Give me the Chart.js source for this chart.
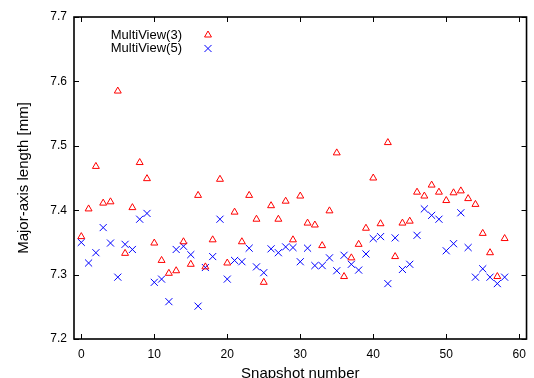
<!DOCTYPE html>
<html>
<head>
<meta charset="utf-8">
<script src="https://cdn.jsdelivr.net/npm/chart.js@4.4.0/dist/chart.umd.min.js"></script>
<style>
html, body { margin: 0; padding: 0; background: #fff; }
</style>
</head>
<body>
<canvas id="c" width="534" height="378"></canvas>
<script>
// tick labels
const xTicks = [0, 10, 20, 30, 40, 50, 60];
const yTicks = [7.2, 7.3, 7.4, 7.5, 7.6, 7.7];

// series (snapshot 0..58)
const mv3 = [
    7.359, 7.402, 7.468, 7.411, 7.413, 7.585, 7.333, 7.404, 7.474, 7.449,
    7.349, 7.322, 7.302, 7.306, 7.351, 7.316, 7.423, 7.312, 7.354, 7.448,
    7.318, 7.397, 7.351, 7.423, 7.386, 7.288, 7.407, 7.386, 7.414, 7.354,
    7.422, 7.380, 7.377, 7.345, 7.399, 7.489, 7.297, 7.326, 7.347, 7.372,
    7.450, 7.379, 7.505, 7.328, 7.380, 7.383, 7.428, 7.422, 7.439, 7.428,
    7.415, 7.427, 7.430, 7.418, 7.409, 7.364, 7.334, 7.297, 7.356
];
const mv5 = [
    7.350, 7.318, 7.334, 7.373, 7.349, 7.296, 7.347, 7.339, 7.386, 7.395,
    7.288, 7.293, 7.258, 7.339, 7.344, 7.331, 7.251, 7.311, 7.328, 7.386,
    7.293, 7.322, 7.320, 7.341, 7.312, 7.303, 7.340, 7.334, 7.343, 7.342,
    7.320, 7.341, 7.314, 7.314, 7.326, 7.306, 7.330, 7.316, 7.307, 7.332,
    7.356, 7.359, 7.286, 7.357, 7.308, 7.316, 7.361, 7.402, 7.392, 7.386,
    7.337, 7.348, 7.396, 7.342, 7.296, 7.309, 7.296, 7.286, 7.296
];

const RED = 'rgb(255, 0, 0)';
const BLUE = 'rgb(0, 0, 255)';
const FONT = '"Liberation Sans", Arial, sans-serif';

const toPoints = arr => arr.map((v, i) => ({ x: i, y: v }));

// gnuplot-like frame, inward ticks and legend
const framePlugin = {
    id: 'frame',
    afterDraw(chart) {
        const ctx = chart.ctx;
        const a = chart.chartArea;
        const xs = chart.scales.x, ys = chart.scales.y;
        const tl = 5;
        ctx.save();
        ctx.strokeStyle = '#000';
        ctx.lineWidth = 1;
        ctx.beginPath();
        xTicks.forEach(v => {
            const px = Math.round(xs.getPixelForValue(v)) + 0.5;
            ctx.moveTo(px, a.bottom); ctx.lineTo(px, a.bottom - tl);
            ctx.moveTo(px, a.top); ctx.lineTo(px, a.top + tl);
        });
        yTicks.forEach(v => {
            const py = Math.round(ys.getPixelForValue(v)) + 0.5;
            ctx.moveTo(a.left, py); ctx.lineTo(a.left + tl, py);
            ctx.moveTo(a.right, py); ctx.lineTo(a.right - tl, py);
        });
        ctx.stroke();
        ctx.lineWidth = 1.6;
        ctx.strokeRect(a.left, a.top, a.right - a.left, a.bottom - a.top);

        // legend
        ctx.font = '13px ' + FONT;
        ctx.textAlign = 'right';
        ctx.textBaseline = 'middle';
        chart.data.datasets.forEach((ds, i) => {
            const y = 35 + i * 13.5;
            ctx.fillStyle = '#000';
            ctx.fillText(ds.label, 182, y);
            ctx.fillStyle = 'rgba(0, 0, 0, 0)';
            ctx.strokeStyle = ds.borderColor;
            ctx.lineWidth = ds.borderWidth;
            Chart.helpers.drawPoint(ctx, {
                pointStyle: ds.pointStyle,
                radius: ds.pointRadius,
                rotation: 0,
                borderWidth: ds.borderWidth
            }, 208, y);
        });
        ctx.restore();
    }
};

new Chart(document.getElementById('c'), {
    type: 'scatter',
    data: {
        datasets: [{
            label: 'MultiView(3)',
            data: toPoints(mv3),
            pointStyle: 'triangle',
            pointRadius: 4,
            borderColor: RED,
            backgroundColor: 'rgba(255, 0, 0, 0)',
            borderWidth: 1
        }, {
            label: 'MultiView(5)',
            data: toPoints(mv5),
            pointStyle: 'crossRot',
            pointRadius: 5,
            borderColor: BLUE,
            backgroundColor: BLUE,
            borderWidth: 1
        }]
    },
    options: {
        responsive: false,
        animation: false,
        devicePixelRatio: 1,
        layout: { padding: { top: 17, right: 1, left: 16, bottom: 0 } },
        plugins: {
            legend: { display: false },
            tooltip: { enabled: false }
        },
        scales: {
            x: {
                type: 'linear',
                min: -1,
                max: 61,
                afterFit: s => { s.height = 39; },
                afterBuildTicks: s => { s.ticks = xTicks.map(v => ({ value: v })); },
                grid: { display: false, drawTicks: false },
                border: { display: false },
                ticks: { color: '#000', padding: 8, font: { family: FONT, size: 12 } },
                title: {
                    display: true,
                    text: 'Snapshot number',
                    color: '#000',
                    padding: 0,
                    font: { family: FONT, size: 15, lineHeight: 0.6 }
                }
            },
            y: {
                min: 7.2,
                max: 7.7,
                afterFit: s => { s.width = 58; },
                afterBuildTicks: s => { s.ticks = yTicks.map(v => ({ value: v })); },
                grid: { display: false, drawTicks: false },
                border: { display: false },
                ticks: {
                    color: '#000',
                    padding: 7,
                    font: { family: FONT, size: 12 },
                    callback: v => v.toFixed(1)
                },
                title: {
                    display: true,
                    text: 'Major-axis length [mm]',
                    color: '#000',
                    padding: 0,
                    font: { family: FONT, size: 15, lineHeight: 1 }
                }
            }
        }
    },
    plugins: [framePlugin]
});
</script>
</body>
</html>
